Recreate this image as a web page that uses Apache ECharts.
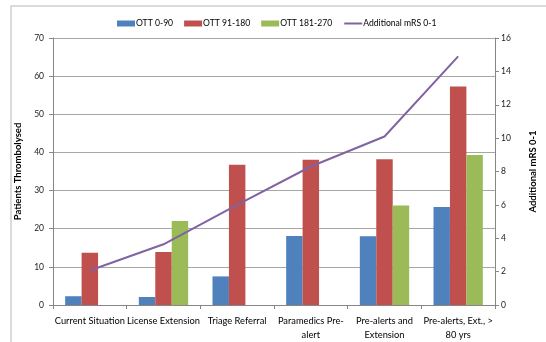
<!DOCTYPE html>
<html><head><meta charset="utf-8">
<script src="https://cdn.jsdelivr.net/npm/echarts@6/dist/echarts.min.js"></script>
<style>html,body{margin:0;padding:0;background:#fff}#c{width:546px;height:342px}</style>
</head><body><div id="c"></div>
<script>
const categories = ['Current Situation','License Extension','Triage Referral','Paramedics Pre-\nalert','Pre-alerts and\nExtension','Pre-alerts, Ext., >\n80 yrs'];
const ott0_90 = [2.3, 2.1, 7.5, 18.1, 18.0, 25.7];
const ott91_180 = [13.7, 13.9, 36.8, 38.1, 38.2, 57.3];
const ott181_270 = [0, 22.0, 0, 0, 26.1, 39.3];
const mrs = [2.07, 3.64, 6.0, 8.3, 10.1, 14.9];
const seriesNames = ['OTT 0-90','OTT 91-180','OTT 181-270','Additional mRS 0-1'];
const colors = ['#4F81BD','#C0504D','#9BBB59','#8064A2'];
const FONT = 'Lato';
const chart = echarts.init(document.getElementById('c'), null, {renderer:'canvas'});
const axisLine = {show:true, lineStyle:{color:'#868686', width:1}};
chart.setOption({
  animation:false,
  textStyle:{fontFamily:FONT},
  graphic:[{type:'rect', shape:{x:11,y:6,width:700,height:500}, style:{fill:'none', stroke:'#d0d0d0', lineWidth:1.5}, silent:true, z:-1}],
  legend:{
    top:14, left:112, itemWidth:18, itemHeight:6, itemGap:11,
    textStyle:{fontSize:8.6, color:'#000', fontFamily:FONT, padding:[0,0,0,-4]},
    data:[
      {name:seriesNames[0], icon:'rect'},
      {name:seriesNames[1], icon:'rect'},
      {name:seriesNames[2], icon:'rect'},
      {name:seriesNames[3], itemStyle:{opacity:0}}
    ]
  },
  grid:{left:53, right:35, top:38, bottom:33, containLabel:false},
  xAxis:{
    type:'category', data:categories,
    axisLine:axisLine,
    axisTick:{show:true, length:4, lineStyle:{color:'#868686'}, alignWithLabel:false},
    axisLabel:{fontSize:9.3, color:'#000', margin:9, lineHeight:14, interval:0, fontFamily:FONT},
    splitLine:{show:false}
  },
  yAxis:[
    {type:'value', min:0, max:70, interval:10,
     name:'Patients Thrombolysed', nameLocation:'middle', nameRotate:90, nameGap:16,
     nameTextStyle:{fontSize:9.5, fontWeight:'bold', color:'#000', fontFamily:FONT},
     axisLine:axisLine, axisTick:{show:true, length:4, inside:false, lineStyle:{color:'#868686'}},
     axisLabel:{fontSize:8.5, color:'#222', margin:9, fontFamily:FONT},
     splitLine:{show:true, lineStyle:{color:'#a6a6a6', width:1}}},
    {type:'value', min:0, max:16, interval:2, position:'right',
     name:'Additional mRS 0-1', nameLocation:'middle', nameRotate:90, nameGap:33,
     nameTextStyle:{fontSize:9.5, fontWeight:'bold', color:'#000', fontFamily:FONT},
     axisLine:axisLine, axisTick:{show:true, length:4, lineStyle:{color:'#868686'}},
     axisLabel:{fontSize:8.5, color:'#222', margin:6, fontFamily:FONT},
     splitLine:{show:false}}
  ],
  series:[
    {name:seriesNames[0], type:'bar', data:ott0_90, itemStyle:{color:colors[0]}, barGap:'0%', barCategoryGap:'33%'},
    {name:seriesNames[1], type:'bar', data:ott91_180, itemStyle:{color:colors[1]}, barGap:'0%', barCategoryGap:'33%'},
    {name:seriesNames[2], type:'bar', data:ott181_270, itemStyle:{color:colors[2]}, barGap:'0%', barCategoryGap:'33%'},
    {name:seriesNames[3], type:'line', yAxisIndex:1, data:mrs, symbol:'none', lineStyle:{color:colors[3], width:2}, itemStyle:{color:colors[3]}, z:5}
  ]
});
</script></body></html>
